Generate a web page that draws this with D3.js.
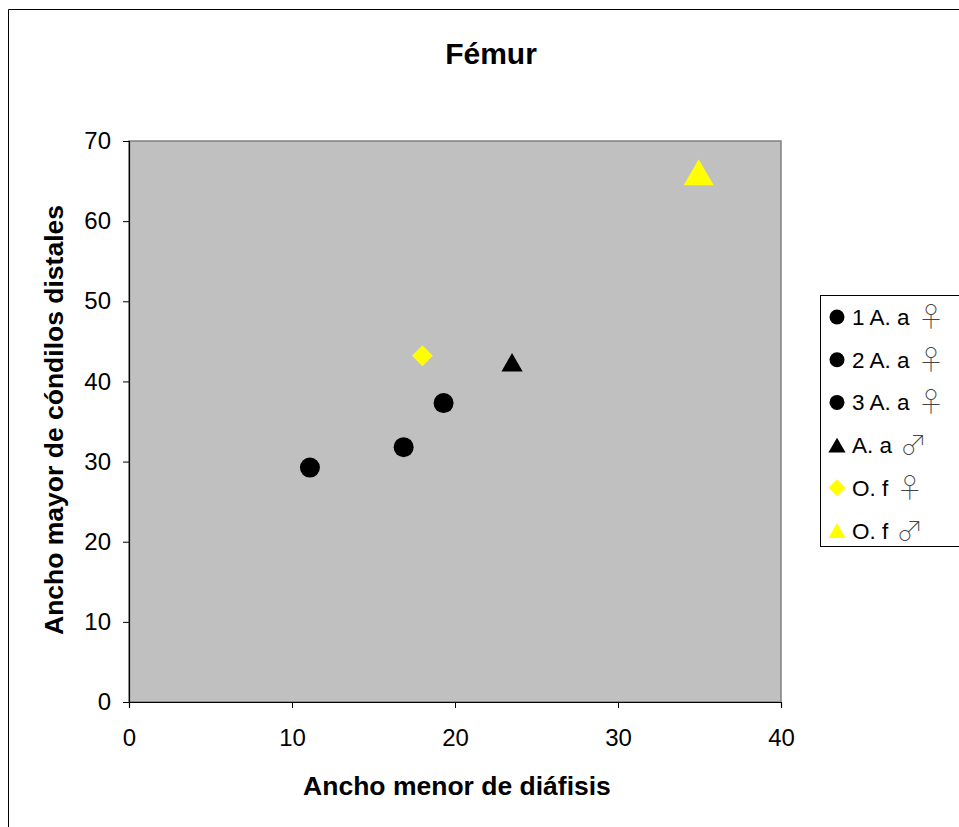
<!DOCTYPE html>
<html><head><meta charset="utf-8">
<script src="https://cdn.jsdelivr.net/npm/d3@7/dist/d3.min.js"></script>
<style>body{margin:0;background:#fff}svg{display:block;font-family:"Liberation Sans",Arial,sans-serif}</style>
</head><body>
<script>
const seriesLabels = ["1 A. a","2 A. a","3 A. a","A. a","O. f","O. f"];
const seriesSex = ["♀","♀","♀","♂","♀","♂"];
const xValues = [11.1, 16.85, 19.3, 23.5, 18.0, 34.95];
const yValues = [29.25, 31.8, 37.3, 42.4, 43.2, 66.1];
const markerShapes = ["circle","circle","circle","triangle","diamond","triangle"];
const markerColors = ["#000000","#000000","#000000","#000000","#FFFF00","#FFFF00"];
const markerSizes = [314, 314, 314, 195, 220, 390];
const legendSizes = [177, 177, 177, 128, 144, 128];
const xTicks = [0,10,20,30,40];
const yTicks = [0,10,20,30,40,50,60,70];

const W=959,H=827;
const svg=d3.select("body").append("svg").attr("width",W).attr("height",H);
svg.append("rect").attr("width",W).attr("height",H).attr("fill","#fff");
svg.append("path").attr("d",`M8.5,${H} V9.5 H${W}`).attr("fill","none").attr("stroke","#000").attr("stroke-width",1);

const m={l:129,r:781,t:141,b:702};
const x=d3.scaleLinear().domain([0,40]).range([m.l,m.r]);
const y=d3.scaleLinear().domain([0,70]).range([m.b,m.t]);

svg.append("rect").attr("x",m.l).attr("y",m.t).attr("width",m.r-m.l).attr("height",m.b-m.t)
  .attr("fill","#C0C0C0").attr("stroke","#808080").attr("stroke-width",1.5);

const xa=svg.append("g").attr("transform",`translate(0,${m.b})`)
  .call(d3.axisBottom(x).tickValues(xTicks).tickSize(6).tickPadding(21));
const ya=svg.append("g").attr("transform",`translate(${m.l},0)`)
  .call(d3.axisLeft(y).tickValues(yTicks).tickSize(6).tickPadding(12));
[xa,ya].forEach(a=>{
  a.selectAll("path").attr("stroke","#000").attr("stroke-width",1.2);
  a.selectAll("line").attr("stroke","#000");
  a.selectAll("text").attr("font-size",24).attr("fill","#000").attr("font-family","Liberation Sans, Arial, sans-serif");
});

const symMap={circle:d3.symbolCircle,triangle:d3.symbolTriangle,diamond:d3.symbolSquare};
function marker(g,i,size){
  const s=markerShapes[i];
  const p=g.append("path").attr("d",d3.symbol().type(symMap[s]).size(size)()).attr("fill",markerColors[i]);
  if(s==="diamond") p.attr("transform","rotate(45)");
  if(s==="triangle"){
    const h=3*Math.sqrt(size/(Math.sqrt(3)*3));
    p.attr("transform",`translate(0,${h/6})`);
  }
  return p;
}
xValues.forEach((v,i)=>{
  const g=svg.append("g").attr("transform",`translate(${x(v)},${y(yValues[i])})`);
  marker(g,i,markerSizes[i]);
});

svg.append("text").attr("x",491).attr("y",64).attr("text-anchor","middle")
  .attr("font-size",30).attr("font-weight","bold").text("Fémur");
svg.append("text").attr("x",457).attr("y",795).attr("text-anchor","middle")
  .attr("font-size",26.5).attr("font-weight","bold").text("Ancho menor de diáfisis");
svg.append("text").attr("transform","translate(63,420) rotate(-90)").attr("text-anchor","middle")
  .attr("font-size",26.5).attr("font-weight","bold").text("Ancho mayor de cóndilos distales");

const lg=svg.append("g");
lg.append("rect").attr("x",820.5).attr("y",295.5).attr("width",160).attr("height",251)
  .attr("fill","#fff").attr("stroke","#000").attr("stroke-width",1);
seriesLabels.forEach((n,i)=>{
  const cy=317+i*42.7;
  const g=lg.append("g").attr("transform",`translate(837,${cy})`);
  marker(g,i,legendSizes[i]);
  const t=lg.append("text").attr("x",852).attr("y",cy+8).attr("font-size",22.5);
  t.append("tspan").text(n);
  t.append("tspan").attr("dx",8).attr("dy",2).attr("font-family","Noto Sans CJK JP").attr("font-size",27).attr("fill","#444").attr("font-weight","100").text(seriesSex[i]);
});
</script>
</body></html>
